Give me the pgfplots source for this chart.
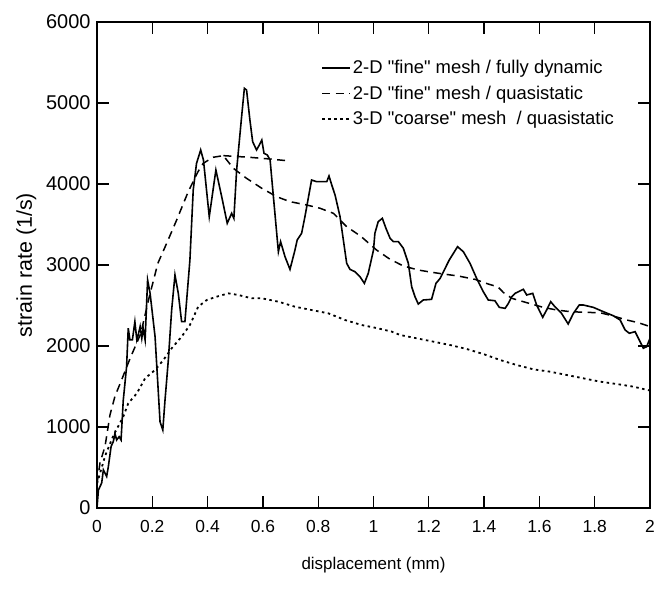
\documentclass[border=0pt]{standalone}
\usepackage{fontspec}
\setmainfont{Liberation Sans}[Ligatures=TeXOff]
\usepackage{pgfplots}
\pgfplotsset{compat=1.18}

% 2-D fine mesh, fully dynamic analysis
\pgfplotstableread{
x y
0.000 0
0.005 220
0.017 310
0.023 470
0.035 390
0.041 510
0.051 760
0.059 820
0.065 920
0.071 840
0.080 880
0.087 840
0.095 1330
0.107 1745
0.113 2220
0.119 2075
0.128 2075
0.137 2300
0.144 2075
0.149 2135
0.156 2240
0.162 2095
0.167 2220
0.174 2075
0.183 2815
0.192 2650
0.210 2115
0.222 1415
0.228 1065
0.238 963
0.246 1333
0.258 1827
0.270 2444
0.282 2877
0.294 2650
0.306 2300
0.318 2300
0.336 3060
0.348 3926
0.360 4255
0.375 4420
0.385 4296
0.406 3596
0.430 4173
0.451 3843
0.471 3515
0.487 3638
0.495 3576
0.505 4173
0.523 4831
0.533 5181
0.541 5160
0.553 4790
0.563 4522
0.577 4420
0.587 4481
0.596 4543
0.604 4379
0.616 4358
0.626 4296
0.638 3843
0.656 3164
0.664 3288
0.680 3102
0.698 2946
0.716 3185
0.724 3309
0.740 3391
0.752 3596
0.776 4049
0.794 4029
0.831 4029
0.839 4099
0.849 3988
0.861 3864
0.879 3596
0.903 3021
0.915 2946
0.933 2917
0.951 2856
0.967 2774
0.981 2897
1.000 3185
1.005 3391
1.017 3535
1.032 3576
1.045 3453
1.060 3330
1.072 3288
1.090 3288
1.108 3206
1.126 3021
1.138 2732
1.150 2609
1.162 2518
1.180 2568
1.210 2576
1.226 2774
1.241 2835
1.259 2959
1.274 3062
1.304 3226
1.325 3164
1.349 3021
1.373 2835
1.397 2671
1.415 2568
1.439 2559
1.455 2477
1.476 2465
1.488 2527
1.500 2609
1.512 2650
1.542 2700
1.554 2630
1.576 2650
1.590 2506
1.612 2354
1.626 2444
1.641 2547
1.656 2485
1.680 2403
1.704 2272
1.723 2403
1.744 2506
1.759 2506
1.795 2477
1.831 2424
1.867 2374
1.892 2321
1.910 2198
1.925 2157
1.946 2177
1.958 2095
1.976 1972
1.988 1992
2.000 2095
}\dynfine

% 2-D fine mesh, quasistatic analysis
\pgfplotstableread{
x y
0.000 300
0.011 560
0.029 760
0.047 1150
0.065 1380
0.090 1590
0.120 1850
0.158 2150
0.190 2620
0.220 3020
0.252 3268
0.288 3555
0.330 3905
0.365 4150
0.384 4255
0.420 4330
0.457 4350
0.493 4194
0.541 4070
0.596 3947
0.650 3843
0.698 3782
0.758 3741
0.807 3700
0.855 3638
0.903 3473
0.954 3355
1.011 3185
1.060 3070
1.108 2988
1.162 2938
1.204 2914
1.252 2889
1.307 2864
1.367 2823
1.415 2765
1.450 2730
1.470 2660
1.500 2589
1.554 2535
1.614 2477
1.663 2444
1.711 2424
1.771 2415
1.819 2411
1.867 2370
1.916 2321
1.958 2288
2.000 2240
}\qsfine

% short upper branch of the quasistatic curve
\pgfplotstableread{
x y
0.457 4350
0.550 4330
0.620 4310
0.680 4290
}\qsbranch

% 3-D coarse mesh, quasistatic analysis
\pgfplotstableread{
x y
0.000 300
0.030 650
0.060 900
0.095 1127
0.113 1292
0.144 1415
0.174 1601
0.210 1704
0.240 1827
0.270 1971
0.306 2115
0.336 2259
0.366 2485
0.397 2568
0.433 2609
0.475 2650
0.511 2630
0.559 2589
0.596 2589
0.656 2547
0.716 2485
0.776 2444
0.837 2403
0.897 2321
0.957 2259
1.017 2218
1.066 2177
1.096 2136
1.156 2095
1.216 2054
1.277 2012
1.337 1963
1.397 1901
1.458 1827
1.518 1765
1.578 1712
1.638 1683
1.699 1642
1.759 1601
1.819 1560
1.879 1531
1.940 1498
2.000 1450
}\qscoarse

\begin{document}
\begin{tikzpicture}
\begin{axis}[
  width=553bp, height=486bp, scale only axis,
  xmin=0, xmax=2, ymin=0, ymax=6000,
  xtick={0,0.2,0.4,0.6,0.8,1,1.2,1.4,1.6,1.8,2},
  ytick={0,1000,2000,3000,4000,5000,6000},
  tick align=inside,
  major tick length=12bp,
  every tick/.style={black, line width=1.3bp},
  axis line style={line width=1.4bp},
  /pgf/number format/assume math mode=true,
  /pgf/number format/1000 sep={},
  scaled x ticks=false, scaled y ticks=false,
  xticklabel style={font=\fontsize{17.5}{20}\selectfont, yshift=-9bp},
  yticklabel style={font=\fontsize{20}{23}\selectfont, xshift=-3bp},
  xlabel={displacement (mm)},
  ylabel={strain rate (1/s)},
  xlabel style={font=\fontsize{17}{20}\selectfont, yshift=-18bp},
  ylabel style={font=\fontsize{21.5}{24}\selectfont, yshift=3bp},
  legend cell align=left,
  legend style={at={(rel axis cs:0.405,0.925)}, anchor=north west,
    draw=none, fill=none, font=\fontsize{18.5}{21}\selectfont,
    row sep=6.5bp, inner sep=0pt},
  legend image code/.code={\draw[#1] (0bp,0bp) -- (28bp,0bp);},
]
\coordinate (bl) at (rel axis cs:0,0);
\coordinate (tr) at (rel axis cs:1,1);
\addplot[black, line width=1.6bp] table[x=x,y=y] {\dynfine};
\addlegendentry{2-D "fine" mesh / fully dynamic}
\addplot[black, line width=1.5bp, dash pattern=on 8bp off 5.5bp] table[x=x,y=y] {\qsfine};
\addlegendentry{2-D "fine" mesh / quasistatic}
\addplot[black, line width=1.8bp, dash pattern=on 2.5bp off 3.5bp] table[x=x,y=y] {\qscoarse};
\addlegendentry{3-D "coarse" mesh\ \ / quasistatic}
\addplot[black, line width=1.5bp, dash pattern=on 8bp off 5.5bp, forget plot] table[x=x,y=y] {\qsbranch};
\end{axis}
\pgfresetboundingbox
\path ([shift={(-97bp,-82bp)}]bl) rectangle ([shift={(5bp,22bp)}]tr);
\end{tikzpicture}
\end{document}
